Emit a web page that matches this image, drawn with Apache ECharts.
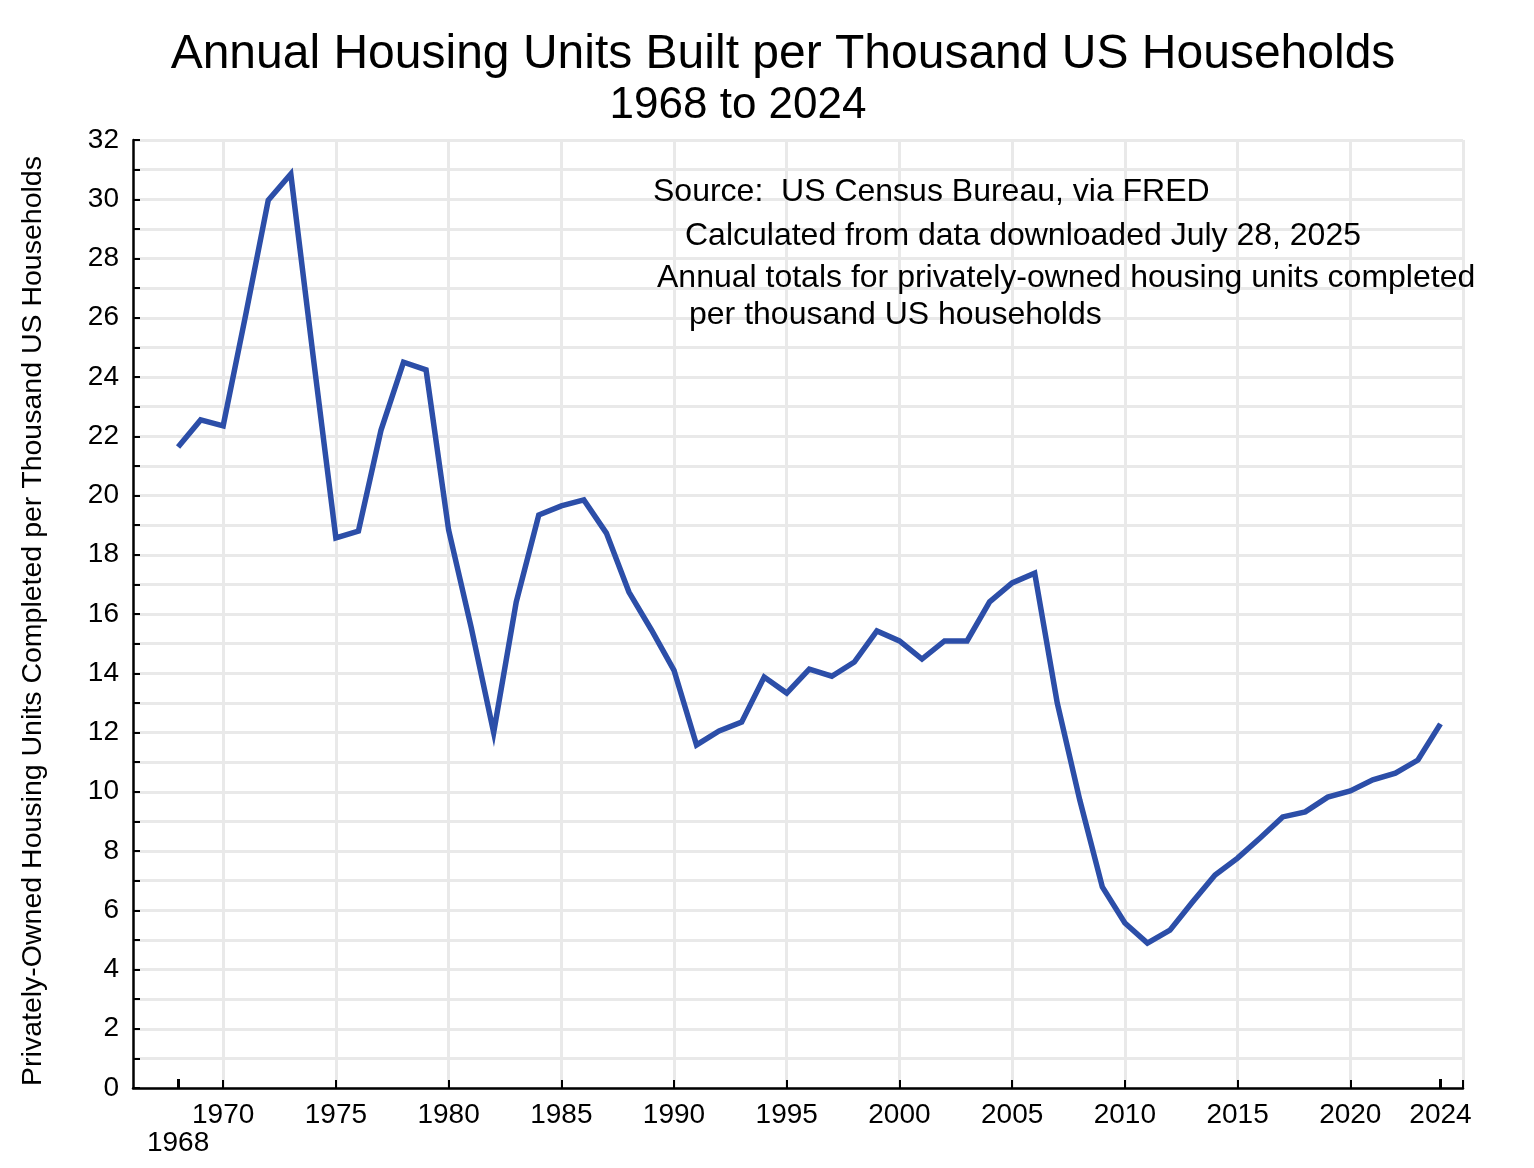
<!DOCTYPE html>
<html>
<head>
<meta charset="utf-8">
<script src="https://cdn.jsdelivr.net/npm/echarts@6/dist/echarts.min.js"></script>
<style>
html,body{margin:0;padding:0;background:#fff;}
#chart{width:1534px;height:1168px;}
</style>
</head>
<body>
<div id="chart"></div>
<script>
const years = [1968,1969,1970,1971,1972,1973,1974,1975,1976,1977,1978,1979,1980,1981,1982,1983,1984,1985,1986,1987,1988,1989,1990,1991,1992,1993,1994,1995,1996,1997,1998,1999,2000,2001,2002,2003,2004,2005,2006,2007,2008,2009,2010,2011,2012,2013,2014,2015,2016,2017,2018,2019,2020,2021,2022,2023,2024];
const unitsPerThousand = [21.64,22.55,22.35,26.1,29.97,30.85,24.65,18.57,18.8,22.2,24.5,24.24,18.84,15.56,12.0,16.4,19.34,19.65,19.85,18.73,16.74,15.46,14.1,11.58,12.05,12.35,13.87,13.33,14.14,13.9,14.38,15.43,15.09,14.48,15.09,15.09,16.41,17.05,17.38,13.0,9.72,6.79,5.57,4.89,5.33,6.28,7.19,7.76,8.44,9.15,9.32,9.82,10.03,10.4,10.63,11.07,12.29];
const xTickYears = [1970,1975,1980,1985,1990,1995,2000,2005,2010,2015,2020,2025];
const xLabelYears = [1970,1975,1980,1985,1990,1995,2000,2005,2010,2015,2020];
const firstYearMark = [1968];
const lastYearMark = [2024];
const titleText = 'Annual Housing Units Built per Thousand US Households';
const subtitleText = '1968 to 2024';
const yAxisName = 'Privately-Owned Housing Units Completed per Thousand US Households';
const notes = [
  'Source:  US Census Bureau, via FRED',
  'Calculated from data downloaded July 28, 2025',
  'Annual totals for privately-owned housing units completed',
  'per thousand US households'
];

const FONT = '"Liberation Sans", Arial, Helvetica, sans-serif';
const chart = echarts.init(document.getElementById('chart'), null, {renderer: 'canvas'});

const gridStyle = {color: '#e9e9e9', width: 3};
const xMin = 1966, xMax = 2025;

function markAxis(values, margin) {
  return {
    type: 'value', min: xMin, max: xMax, position: 'bottom', gridIndex: 0,
    axisLine: {show: false},
    axisTick: {show: true, inside: true, length: 9, customValues: values, lineStyle: {color: '#000', width: 3}},
    axisLabel: {show: true, customValues: values, margin: margin, color: '#000', fontSize: 28, fontFamily: FONT, formatter: v => String(v)},
    splitLine: {show: false}
  };
}

const notePos = [[653,176.5],[685,220.5],[657,262.5],[689,299.5]];

const graphics = notes.map((t, i) => ({
  type: 'text',
  left: notePos[i][0],
  top: notePos[i][1],
  style: {text: t, fontSize: 32, fontFamily: FONT, fill: '#000'},
  z: 10
}));
graphics.push({
  type: 'text', x: 783, y: 55,
  style: {text: titleText, fontSize: 48, fontFamily: FONT, fill: '#000', align: 'center', verticalAlign: 'middle'}
});
graphics.push({
  type: 'text', x: 738, y: 106,
  style: {text: subtitleText, fontSize: 44, fontFamily: FONT, fill: '#000', align: 'center', verticalAlign: 'middle'}
});
graphics.push({
  type: 'text', x: 33, y: 621, rotation: Math.PI / 2,
  style: {text: yAxisName, fontSize: 28.5, fontFamily: FONT, fill: '#000', align: 'center', verticalAlign: 'middle'}
});

chart.setOption({
  animation: false,
  backgroundColor: '#fff',
  grid: {left: 133, right: 71, top: 140, bottom: 80, containLabel: false},
  xAxis: [
    {
      type: 'value', min: xMin, max: xMax, position: 'bottom',
      axisLine: {show: true, lineStyle: {color: '#000', width: 2.5}},
      axisTick: {show: true, inside: true, length: 8, customValues: xTickYears, lineStyle: {color: '#000', width: 2}},
      axisLabel: {show: true, customValues: xLabelYears, margin: 13, color: '#000', fontSize: 28, fontFamily: FONT, formatter: v => String(v)},
      splitLine: {show: true, lineStyle: gridStyle}
    },
    markAxis(firstYearMark, 41),
    markAxis(lastYearMark, 13)
  ],
  yAxis: {
    type: 'value', min: 0, max: 32, interval: 2,
    axisLine: {show: true, lineStyle: {color: '#000', width: 2.5}},
    axisTick: {show: true, inside: true, length: 7, lineStyle: {color: '#000', width: 2}},
    minorTick: {show: true, splitNumber: 2, length: 7, lineStyle: {color: '#000', width: 2}},
    axisLabel: {margin: 14, color: '#000', fontSize: 28, fontFamily: FONT},
    splitLine: {show: true, lineStyle: gridStyle},
    minorSplitLine: {show: true, lineStyle: gridStyle}
  },
  graphic: graphics,
  series: [{
    type: 'line',
    data: years.map((y, i) => [y, unitsPerThousand[i]]),
    showSymbol: false,
    symbol: 'none',
    lineStyle: {color: '#2c4ea8', width: 5.5, join: 'miter'},
    itemStyle: {color: '#2c4ea8'}
  }]
});
</script>
</body>
</html>
